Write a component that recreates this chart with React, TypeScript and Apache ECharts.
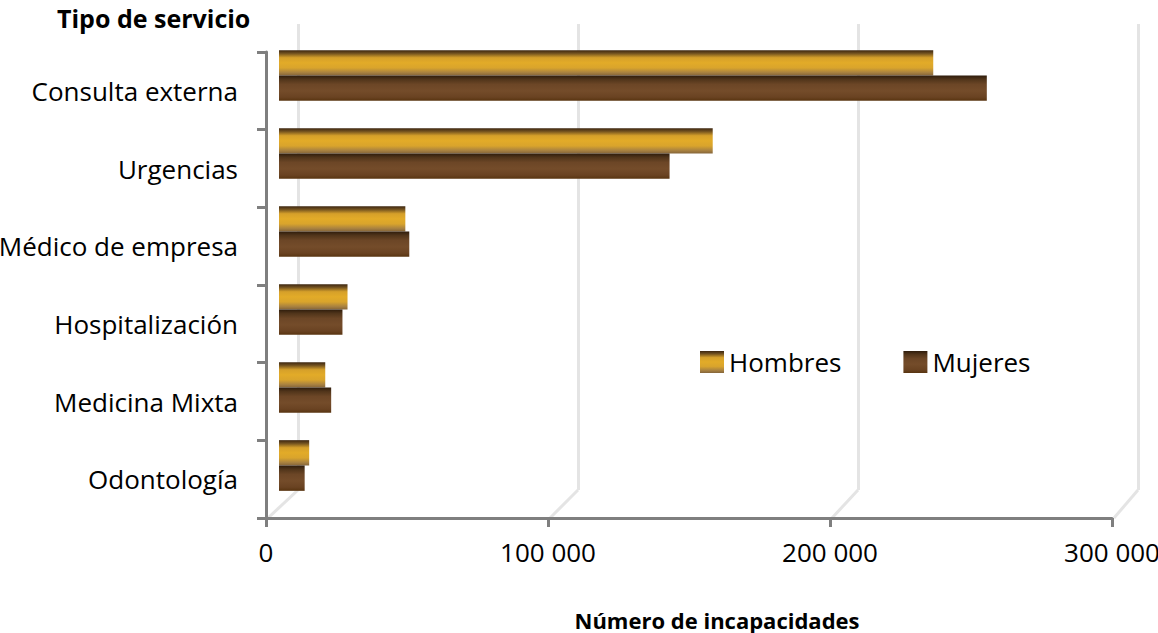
import React, { useEffect, useRef } from "react";
import * as echarts from "echarts";

const categories = [
  "Consulta externa",
  "Urgencias",
  "Médico de empresa",
  "Hospitalización",
  "Medicina Mixta",
  "Odontología",
];
const hombres = [232000, 153800, 44800, 24300, 16400, 10700];
const mujeres = [251000, 138500, 46200, 22500, 18500, 9100];
const xTicks = [0, 100000, 200000, 300000];
const xMax = 300000;
const xInterval = 100000;

const FONT = "'Open Sans', sans-serif";

// layout (front, back wall, bar depth)
const FRONT = { left: 266, top: 52, width: 846, height: 466 };
const BACK = { left: 298, top: 24, width: 840, height: 466 };
const MID = { left: 279, top: 36.5, width: 846, height: 468 };

const fmt = (v: number) => {
  const s = String(Math.round(v));
  return s.replace(/\B(?=(\d{3})+(?!\d))/g, " ");
};

const gradH = new echarts.graphic.LinearGradient(0, 0, 0, 1, [
  { offset: 0, color: "#3b2510" },
  { offset: 0.12, color: "#6e4e1e" },
  { offset: 0.3, color: "#d6a02a" },
  { offset: 0.5, color: "#e2ab28" },
  { offset: 0.7, color: "#d9a42c" },
  { offset: 0.88, color: "#a98240" },
  { offset: 1, color: "#85653a" },
]);
const gradM = new echarts.graphic.LinearGradient(0, 0, 0, 1, [
  { offset: 0, color: "#2e1c0c" },
  { offset: 0.15, color: "#50341a" },
  { offset: 0.35, color: "#6c4626" },
  { offset: 0.6, color: "#744c2a" },
  { offset: 0.85, color: "#6a4322" },
  { offset: 1, color: "#583410" },
]);

export default function App() {
  const ref = useRef<HTMLDivElement>(null);
  useEffect(() => {
    if (!ref.current) return;
    const chart = echarts.init(ref.current, undefined, { renderer: "svg" });
    const axisGray = "#7f7f7f";
    const gridBase = { containLabel: false, outerBoundsMode: "none" };
    const option: any = {
      animation: false,
      backgroundColor: "#ffffff",
      textStyle: { fontFamily: FONT },
      grid: [
        { ...FRONT, ...gridBase },
        { ...BACK, ...gridBase },
        { ...MID, ...gridBase },
      ],
      xAxis: [
        {
          gridIndex: 0,
          type: "value",
          min: 0,
          max: xMax,
          interval: xInterval,
          axisLine: { show: true, lineStyle: { color: axisGray, width: 3 } },
          axisTick: { show: true, length: 9, lineStyle: { color: axisGray, width: 3 } },
          axisLabel: {
            show: true,
            margin: 21,
            color: "#000",
            fontFamily: FONT,
            fontSize: 26,
            hideOverlap: false,
            formatter: (v: number) => fmt(v),
          },
          splitLine: { show: false },
          z: 5,
        },
        {
          gridIndex: 1,
          type: "value",
          min: 0,
          max: xMax,
          interval: xInterval,
          axisLine: { show: false },
          axisTick: { show: false },
          axisLabel: { show: false },
          splitLine: { show: true, showMinLine: true, lineStyle: { color: "#e4e4e4", width: 3 } },
        },
        {
          gridIndex: 2,
          type: "value",
          min: 0,
          max: xMax,
          interval: xInterval,
          show: false,
          splitLine: { show: false },
        },
      ],
      yAxis: [
        {
          gridIndex: 0,
          type: "category",
          data: categories,
          inverse: true,
          axisLine: { show: true, lineStyle: { color: axisGray, width: 3 } },
          axisTick: { show: true, length: 9, lineStyle: { color: axisGray, width: 3 } },
          axisLabel: {
            show: true,
            margin: 28,
            color: "#000",
            fontFamily: FONT,
            fontSize: 26,
          },
          z: 5,
        },
        {
          gridIndex: 1,
          type: "category",
          data: categories,
          inverse: true,
          show: false,
        },
        {
          gridIndex: 2,
          type: "category",
          data: categories,
          inverse: true,
          show: false,
        },
      ],
      legend: {
        left: 700,
        top: 349,
        padding: 0,
        itemWidth: 24,
        itemHeight: 22,
        itemGap: 62,
        textStyle: { fontFamily: FONT, fontSize: 26, color: "#000" },
        data: ["Hombres", "Mujeres"],
        icon: "rect",
      },
      title: [
        {
          text: "Tipo de servicio",
          left: 57,
          top: 5,
          padding: 0,
          textStyle: { fontFamily: FONT, fontSize: 25, fontWeight: "bold", color: "#000" },
        },
        {
          text: "Número de incapacidades",
          left: 717,
          textAlign: "center",
          top: 609,
          padding: 0,
          textStyle: { fontFamily: FONT, fontSize: 22, fontWeight: "bold", color: "#000" },
        },
      ],
      series: [
        {
          name: "Hombres",
          type: "bar",
          xAxisIndex: 2,
          yAxisIndex: 2,
          data: hombres,
          barGap: "0%",
          barCategoryGap: "35%",
          itemStyle: { color: gradH },
          z: 3,
        },
        {
          name: "Mujeres",
          type: "bar",
          xAxisIndex: 2,
          yAxisIndex: 2,
          data: mujeres,
          barGap: "0%",
          barCategoryGap: "35%",
          itemStyle: { color: gradM },
          z: 3,
        },
      ],
    };
    chart.setOption(option);

    // floor diagonals linking front ticks to back wall gridlines
    const frontBottom = FRONT.top + FRONT.height;
    const backBottom = BACK.top + BACK.height;
    const lines = xTicks.map((v) => {
      const fx = chart.convertToPixel({ xAxisIndex: 0 }, v) as number;
      const bx = chart.convertToPixel({ xAxisIndex: 1 }, v) as number;
      return {
        type: "line",
        z: 0,
        shape: { x1: fx + 2, y1: frontBottom, x2: bx, y2: backBottom },
        style: { stroke: "#e4e4e4", lineWidth: 3 },
      };
    });
    chart.setOption({ graphic: lines });

    return () => chart.dispose();
  }, []);
  return (
    <div
      ref={ref}
      style={{ position: "fixed", left: 0, top: 0, width: 1158, height: 633 }}
    />
  );
}
